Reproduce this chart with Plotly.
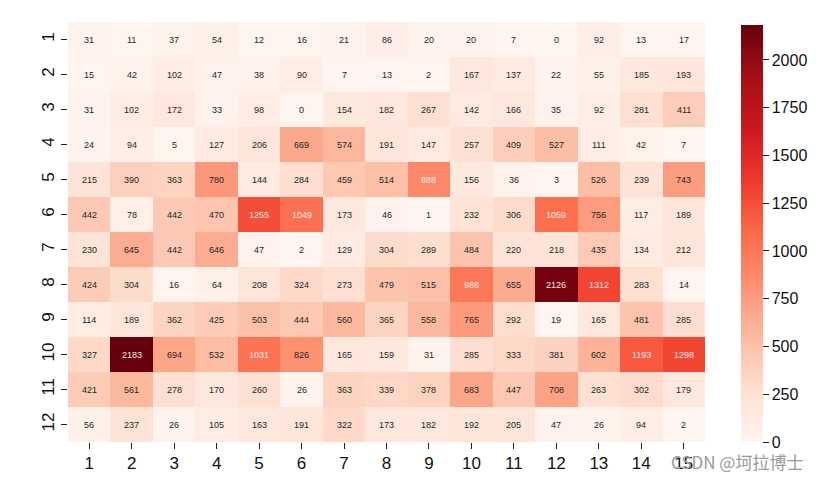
import plotly.graph_objects as go

# 12 rows x 15 columns
rows = list(range(1, 13))
cols = list(range(1, 16))

r1 = [31, 11, 37, 54, 12, 16, 21, 86, 20, 20, 7, 0, 92, 13, 17]
r2 = [15, 42, 102, 47, 38, 90, 7, 13, 2, 167, 137, 22, 55, 185, 193]
r3 = [31, 102, 172, 33, 98, 0, 154, 182, 267, 142, 166, 35, 92, 281, 411]
r4 = [24, 94, 5, 127, 206, 669, 574, 191, 147, 257, 409, 527, 111, 42, 7]
r5 = [215, 390, 363, 780, 144, 284, 459, 514, 888, 156, 36, 3, 526, 239, 743]
r6 = [442, 78, 442, 470, 1255, 1049, 173, 46, 1, 232, 306, 1059, 756, 117, 189]
r7 = [230, 645, 442, 646, 47, 2, 129, 304, 289, 484, 220, 218, 435, 134, 212]
r8 = [424, 304, 16, 64, 208, 324, 273, 479, 515, 988, 655, 2126, 1312, 283, 14]
r9 = [114, 189, 362, 425, 503, 444, 560, 365, 558, 765, 292, 19, 165, 481, 285]
r10 = [327, 2183, 694, 532, 1031, 826, 165, 159, 31, 285, 333, 381, 602, 1193, 1298]
r11 = [421, 561, 278, 170, 260, 26, 363, 339, 378, 683, 447, 708, 263, 302, 179]
r12 = [56, 237, 26, 105, 163, 191, 322, 173, 182, 192, 205, 47, 26, 94, 2]

z = [r1, r2, r3, r4, r5, r6, r7, r8, r9, r10, r11, r12]
zmax = max(max(r) for r in z)

fig = go.Figure()
fig.add_trace(go.Heatmap(
    z=z, x=cols, y=rows,
    colorscale="Reds", zmin=0, zmax=zmax,
    colorbar=dict(
        x=1.0565, xanchor="left", xref="paper", xpad=0, ypad=0,
        y=0, yanchor="bottom", len=0.993, lenmode="fraction",
        thickness=22, outlinewidth=0,
        tickvals=list(range(0, 2001, 250)),
        ticks="outside", ticklen=6, tickwidth=1.2, tickcolor="#222",
        tickfont=dict(size=16, color="#111", family="Liberation Sans"),
    ),
))

# cell labels
for i, row in enumerate(z):
    for j, v in enumerate(row):
        fig.add_annotation(
            x=cols[j], y=rows[i], text=str(v), showarrow=False,
            font=dict(size=9, family="Liberation Sans",
                      color="#fbe9e6" if v > 850 else "#262626"),
        )

fig.add_annotation(
    xref="paper", yref="paper", x=1.157, y=-0.0476, xanchor="right", yanchor="middle",
    text="CSDN @坷拉博士", showarrow=False,
    font=dict(size=17, color="#9a9a9a", family="Noto Sans CJK SC"),
)

fig.update_xaxes(
    range=[0.5, 15.5], tickvals=cols, ticks="outside", ticklen=6, tickwidth=1.2,
    tickcolor="#222", tickfont=dict(size=17, color="#111", family="Liberation Sans"),
    showgrid=False, zeroline=False, showline=False, automargin=False,
)
fig.update_yaxes(
    range=[12.5, 0.5], tickvals=rows, ticks="outside", ticklen=6,
    tickwidth=1.2, tickcolor="#222", tickangle=-90,
    tickfont=dict(size=17, color="#111", family="Liberation Sans"),
    showgrid=False, zeroline=False, showline=False, automargin=False,
)
# page body adds an 8px offset, so the figure is 8px smaller each way
fig.update_layout(
    width=811, height=472,
    margin=dict(l=60, r=114, t=14, b=38, autoexpand=False),
    paper_bgcolor="white", plot_bgcolor="white",
)
fig.write_html("out.html")
